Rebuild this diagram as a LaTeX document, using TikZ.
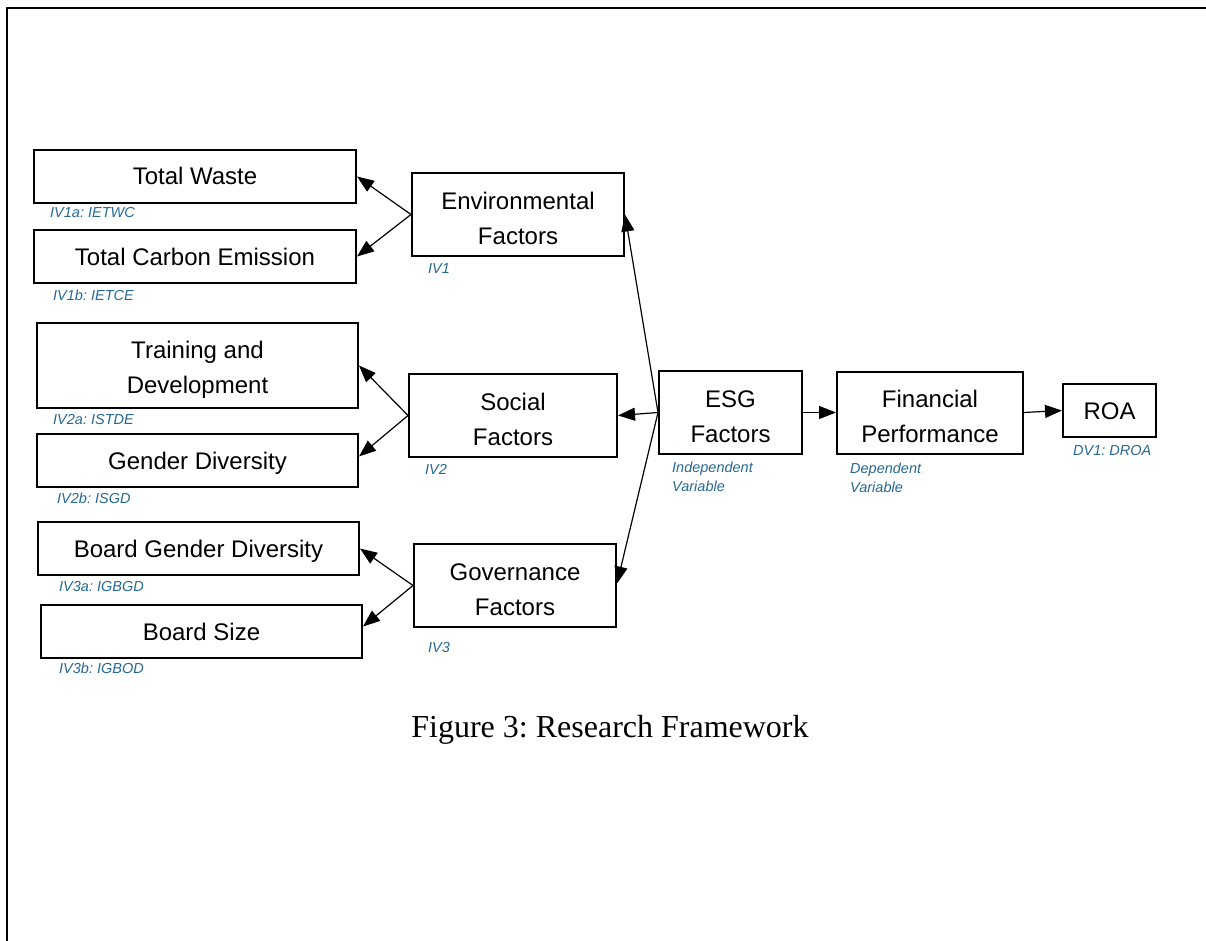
\documentclass[tikz,border=0pt]{standalone}
\usepackage{fontspec}
\setmainfont{Liberation Sans}
\newfontfamily\capfont{Liberation Serif}
\usetikzlibrary{arrows.meta}
\frenchspacing
\definecolor{lblue}{RGB}{38,104,148}
\tikzset{
  box/.style={draw, line width=2pt, inner sep=0pt, align=center,
    text height=17pt, text depth=0pt,
    font=\fontsize{24}{35}\selectfont},
  twoline/.style={align=center, inner sep=0pt, yshift=-4pt,
    font=\fontsize{24}{35}\selectfont},
  lbl/.style={anchor=west, inner sep=0pt, text=lblue, align=left,
    font=\fontsize{14.5}{19}\selectfont\itshape},
  conn/.style={line width=1.2pt, -{Triangle[length=17pt,width=13pt]}},
}
\begin{document}
\begin{tikzpicture}[x=1pt,y=-1pt]
\useasboundingbox (0,0) rectangle (1206,941);
% frame
\draw[line width=2.2pt] (7,941) -- (7,8) -- (1206,8);
% left boxes
\node[box, minimum width=322pt, minimum height=53pt] (tw) at (195,176.5) {Total Waste};
\node[box, minimum width=322pt, minimum height=53pt] (tce) at (195,256.5) {Total Carbon Emission};
\node[box, minimum width=321pt, minimum height=85pt,
  label={[twoline]center:Training and\\Development}] (td) at (197.5,365.5) {};
\node[box, minimum width=321pt, minimum height=53pt] (gd) at (197.5,460.5) {Gender Diversity};
\node[box, minimum width=321pt, minimum height=53pt] (bgd) at (198.5,548.5) {Board Gender Diversity};
\node[box, minimum width=321pt, minimum height=53pt] (bs) at (201.5,631.5) {Board Size};
% middle boxes
\node[box, minimum width=212pt, minimum height=83pt,
  label={[twoline]center:Environmental\\Factors}] (env) at (518,214.5) {};
\node[box, minimum width=208pt, minimum height=83pt,
  label={[twoline]center:Social\\Factors}] (soc) at (513,415.5) {};
\node[box, minimum width=202pt, minimum height=83pt,
  label={[twoline]center:Governance\\Factors}] (gov) at (515,585.5) {};
% right boxes
\node[box, minimum width=143pt, minimum height=83pt,
  label={[twoline]center:ESG\\Factors}] (esg) at (730.5,412.5) {};
\node[box, minimum width=186pt, minimum height=82pt,
  label={[twoline]center:Financial\\Performance}] (fin) at (930,412.5) {};
\node[box, minimum width=93pt, minimum height=53pt] (roa) at (1109.5,410.5) {ROA};
% labels
\node[lbl] (l1a) at (50,213) {IV1a: IETWC};
\node[lbl] (l1b) at (53,295) {IV1b: IETCE};
\node[lbl] (l2a) at (53,420) {IV2a: ISTDE};
\node[lbl] (l2b) at (57,498) {IV2b: ISGD};
\node[lbl] (l3a) at (59,587) {IV3a: IGBGD};
\node[lbl] (l3b) at (59,668) {IV3b: IGBOD};
\node[lbl] (l1) at (428,269) {IV1};
\node[lbl] (l2) at (425,469) {IV2};
\node[lbl] (l3) at (428,648) {IV3};
\node[lbl] (liv) at (672,476.5) {Independent\\Variable};
\node[lbl] (ldv) at (850,477.5) {Dependent\\Variable};
\node[lbl] (ldr) at (1073,451) {DV1: DROA};
% caption
\node[anchor=base, inner sep=0pt, font=\capfont\fontsize{32}{38}\selectfont] (cap) at (610,737) {Figure 3: Research Framework};
% connectors
\draw[conn] (env.west) -- (tw.east);
\draw[conn] (env.west) -- (tce.east);
\draw[conn] (soc.west) -- (td.east);
\draw[conn] (soc.west) -- ([yshift=4pt]gd.east);
\draw[conn] (gov.west) -- (bgd.east);
\draw[conn] (gov.west) -- ([yshift=5pt]bs.east);
\draw[conn] (esg.west) -- (env.east);
\draw[conn] (esg.west) -- (soc.east);
\draw[conn] (esg.west) -- ([yshift=2pt]gov.east);
\draw[conn] (esg.east) -- (fin.west);
\draw[conn] (fin.east) -- (roa.west);
\end{tikzpicture}
\end{document}
